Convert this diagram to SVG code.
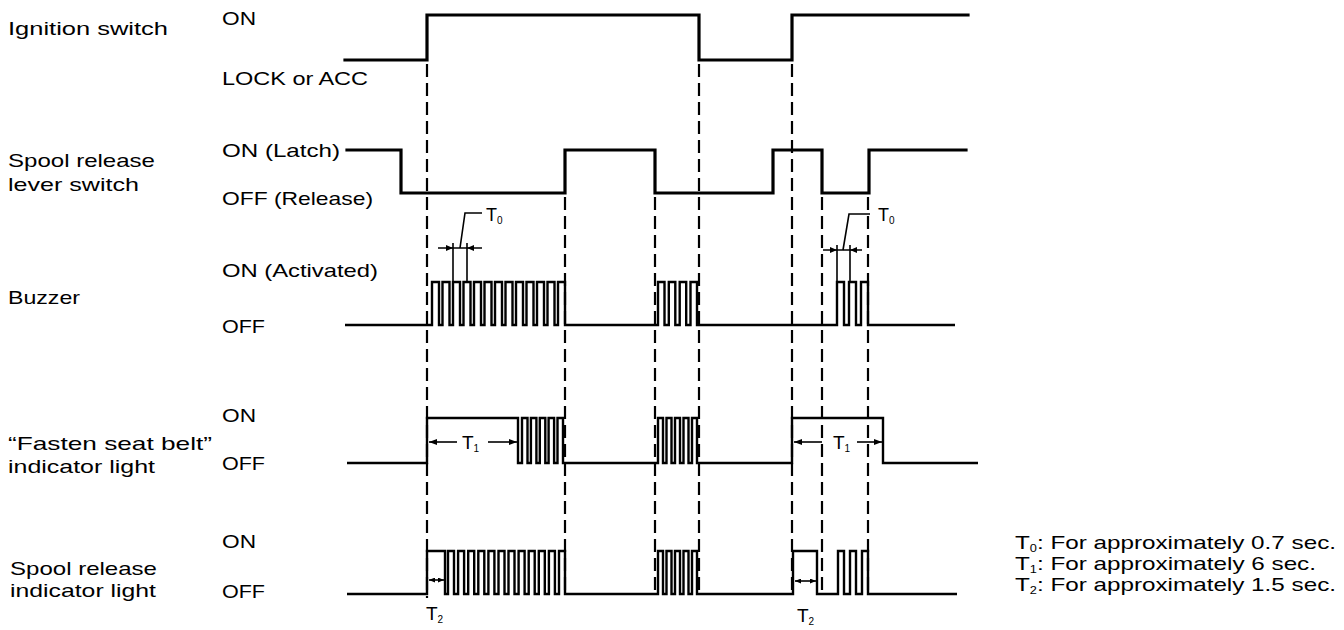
<svg xmlns="http://www.w3.org/2000/svg" width="1344" height="630" viewBox="0 0 1344 630">
<defs>
<style>
.t{font-family:"Liberation Sans",Arial,sans-serif;font-size:19px;fill:#000}
.tl{font-family:"Liberation Sans",Arial,sans-serif;font-size:18px;fill:#000}
.s{font-size:10px}
.w{fill:none;stroke:#000;stroke-width:3.2;stroke-linejoin:miter;stroke-linecap:square}
.p{fill:none;stroke:#000;stroke-width:2.4;stroke-linejoin:miter}
.d{fill:none;stroke:#000;stroke-width:2.2;stroke-dasharray:13 6}
.a{fill:none;stroke:#000;stroke-width:1.6}
.ah{fill:#000}
</style>
<marker id="arr" markerWidth="8" markerHeight="6" refX="8" refY="3" orient="auto-start-reverse" markerUnits="userSpaceOnUse"><path d="M0,0 L8,3 L0,6 z" fill="#000"/></marker>
<marker id="arrs" markerWidth="6" markerHeight="5" refX="6" refY="2.5" orient="auto-start-reverse" markerUnits="userSpaceOnUse"><path d="M0,0 L6,2.5 L0,5 z" fill="#000"/></marker>
</defs>
<rect width="1344" height="630" fill="#fff"/>

<g id="ignition">
<text class="t" x="8" y="35" textLength="160" lengthAdjust="spacingAndGlyphs">Ignition switch</text>
<text class="t" x="222" y="25" textLength="34" lengthAdjust="spacingAndGlyphs">ON</text>
<text class="t" x="222" y="85" textLength="146" lengthAdjust="spacingAndGlyphs">LOCK or ACC</text>
<path class="w" d="M345,60 H427 V15 H699 V60 H792 V15 H968"/>
</g>

<g id="lever">
<text class="t" x="8" y="167" textLength="147" lengthAdjust="spacingAndGlyphs">Spool release</text>
<text class="t" x="8" y="191" textLength="131" lengthAdjust="spacingAndGlyphs">lever switch</text>
<text class="t" x="222" y="157" textLength="118" lengthAdjust="spacingAndGlyphs">ON (Latch)</text>
<text class="t" x="222" y="205" textLength="151" lengthAdjust="spacingAndGlyphs">OFF (Release)</text>
<path class="w" d="M347,150 H401 V193 H565 V150 H655 V193 H773 V150 H822 V193 H869 V150 H966"/>
</g>

<g id="buzzer">
<text class="t" x="8" y="304" textLength="72" lengthAdjust="spacingAndGlyphs">Buzzer</text>
<text class="t" x="222" y="277" textLength="156" lengthAdjust="spacingAndGlyphs">ON (Activated)</text>
<text class="t" x="222" y="333" textLength="43" lengthAdjust="spacingAndGlyphs">OFF</text>
<path class="p" d="M345,325 H432 V282 H439 V325 H442.5 V282 H449.5 V325 H453 V282 H460 V325 H463.5 V282 H470.5 V325 H474 V282 H481 V325 H484.5 V282 H491.5 V325 H495 V282 H502 V325 H505.5 V282 H512.5 V325 H516 V282 H523 V325 H526.5 V282 H533.5 V325 H537 V282 H544 V325 H547.5 V282 H554.5 V325 H558 V282 H565 V325 H658 V282 H664.5 V325 H668.8 V282 H675.3 V325 H679.7 V282 H686.2 V325 H690.5 V282 H697 V325 H837 V282 H844 V325 H849 V282 H856 V325 H861 V282 H868 V325 H955"/>
<!-- T0 left -->
<line class="a" x1="438" y1="248" x2="482" y2="248"/>
<line class="a" x1="453" y1="243" x2="453" y2="281"/>
<line class="a" x1="467" y1="243" x2="467" y2="281"/>
<path class="ah" d="M453,248 L446,245 L446,251 z M467,248 L474,245 L474,251 z"/>
<polyline class="a" points="460,248 465,213 482,213"/>
<text class="tl" x="486" y="221">T<tspan class="s" dy="3">0</tspan></text>
<!-- T0 right -->
<line class="a" x1="823" y1="250" x2="862" y2="250"/>
<line class="a" x1="837" y1="245" x2="837" y2="282"/>
<line class="a" x1="850" y1="245" x2="850" y2="282"/>
<path class="ah" d="M837,250 L830,247 L830,253 z M850,250 L857,247 L857,253 z"/>
<polyline class="a" points="843,250 849,214 870,214"/>
<text class="tl" x="878" y="221">T<tspan class="s" dy="3">0</tspan></text>
</g>

<g id="fasten">
<text class="t" x="8" y="450" textLength="204" lengthAdjust="spacingAndGlyphs">“Fasten seat belt”</text>
<text class="t" x="8" y="473" textLength="147" lengthAdjust="spacingAndGlyphs">indicator light</text>
<text class="t" x="222" y="422" textLength="34" lengthAdjust="spacingAndGlyphs">ON</text>
<text class="t" x="222" y="470" textLength="43" lengthAdjust="spacingAndGlyphs">OFF</text>
<path class="p" d="M347,463 H427 V418 H518 V463 H522 V418 H527.5 V463 H530.9 V418 H536.4 V463 H539.8 V418 H545.3 V463 H548.6 V418 H554.1 V463 H557.5 V418 H563 V463 H658 V418 H663 V463 H666.5 V418 H671.5 V463 H675 V418 H680 V463 H683.5 V418 H688.5 V463 H692 V418 H697 V463 H792 V418 H883 V463 H978"/>
<line class="a" x1="457" y1="442" x2="429" y2="442" marker-end="url(#arr)"/>
<line class="a" x1="488" y1="442" x2="517" y2="442" marker-end="url(#arr)"/>
<text class="t" x="462" y="449">T<tspan class="s" dy="3">1</tspan></text>
<line class="a" x1="822" y1="442" x2="794" y2="442" marker-end="url(#arr)"/>
<line class="a" x1="857" y1="442" x2="882" y2="442" marker-end="url(#arr)"/>
<text class="t" x="833" y="449">T<tspan class="s" dy="3">1</tspan></text>
</g>

<g id="spool-indicator">
<text class="t" x="10" y="575" textLength="147" lengthAdjust="spacingAndGlyphs">Spool release</text>
<text class="t" x="10" y="597" textLength="146" lengthAdjust="spacingAndGlyphs">indicator light</text>
<text class="t" x="222" y="548" textLength="34" lengthAdjust="spacingAndGlyphs">ON</text>
<text class="t" x="222" y="598" textLength="43" lengthAdjust="spacingAndGlyphs">OFF</text>
<path class="p" d="M347,594 H427 V551 H445 V594 H448 V551 H454 V594 H458.1 V551 H464.1 V594 H468.2 V551 H474.2 V594 H478.3 V551 H484.3 V594 H488.4 V551 H494.4 V594 H498.5 V551 H504.5 V594 H508.5 V551 H514.5 V594 H518.6 V551 H524.6 V594 H528.7 V551 H534.7 V594 H538.8 V551 H544.8 V594 H548.9 V551 H554.9 V594 H559 V551 H565 V594 H658 V551 H663 V594 H666.5 V551 H671.5 V594 H675 V551 H680 V594 H683.5 V551 H688.5 V594 H692 V551 H697 V594 H793 V551 H817 V594 H838 V551 H844 V594 H850 V551 H856 V594 H862 V551 H868 V594 H957"/>
<line class="a" x1="429" y1="580" x2="444" y2="580" marker-start="url(#arrs)" marker-end="url(#arrs)"/>
<text class="t" x="426" y="620">T<tspan class="s" dy="3">2</tspan></text>
<line class="a" x1="795" y1="581" x2="816" y2="581" marker-start="url(#arrs)" marker-end="url(#arrs)"/>
<text class="t" x="797" y="622">T<tspan class="s" dy="3">2</tspan></text>
</g>

<g id="connectors">
<line class="d" x1="427" y1="64" x2="427" y2="598"/>
<line class="d" x1="565" y1="197" x2="565" y2="596"/>
<line class="d" x1="655" y1="197" x2="655" y2="596"/>
<line class="d" x1="699" y1="64" x2="699" y2="596"/>
<line class="d" x1="792" y1="64" x2="792" y2="596"/>
<line class="d" x1="822" y1="197" x2="822" y2="596"/>
<line class="d" x1="868" y1="197" x2="868" y2="596"/>
</g>

<g id="legend">
<text class="t" x="1015" y="549" textLength="321" lengthAdjust="spacingAndGlyphs">T<tspan class="s" dy="3">0</tspan><tspan dy="-3">: For approximately 0.7 sec.</tspan></text>
<text class="t" x="1015" y="570" textLength="301" lengthAdjust="spacingAndGlyphs">T<tspan class="s" dy="3">1</tspan><tspan dy="-3">: For approximately 6 sec.</tspan></text>
<text class="t" x="1015" y="591" textLength="321" lengthAdjust="spacingAndGlyphs">T<tspan class="s" dy="3">2</tspan><tspan dy="-3">: For approximately 1.5 sec.</tspan></text>
</g>
</svg>
